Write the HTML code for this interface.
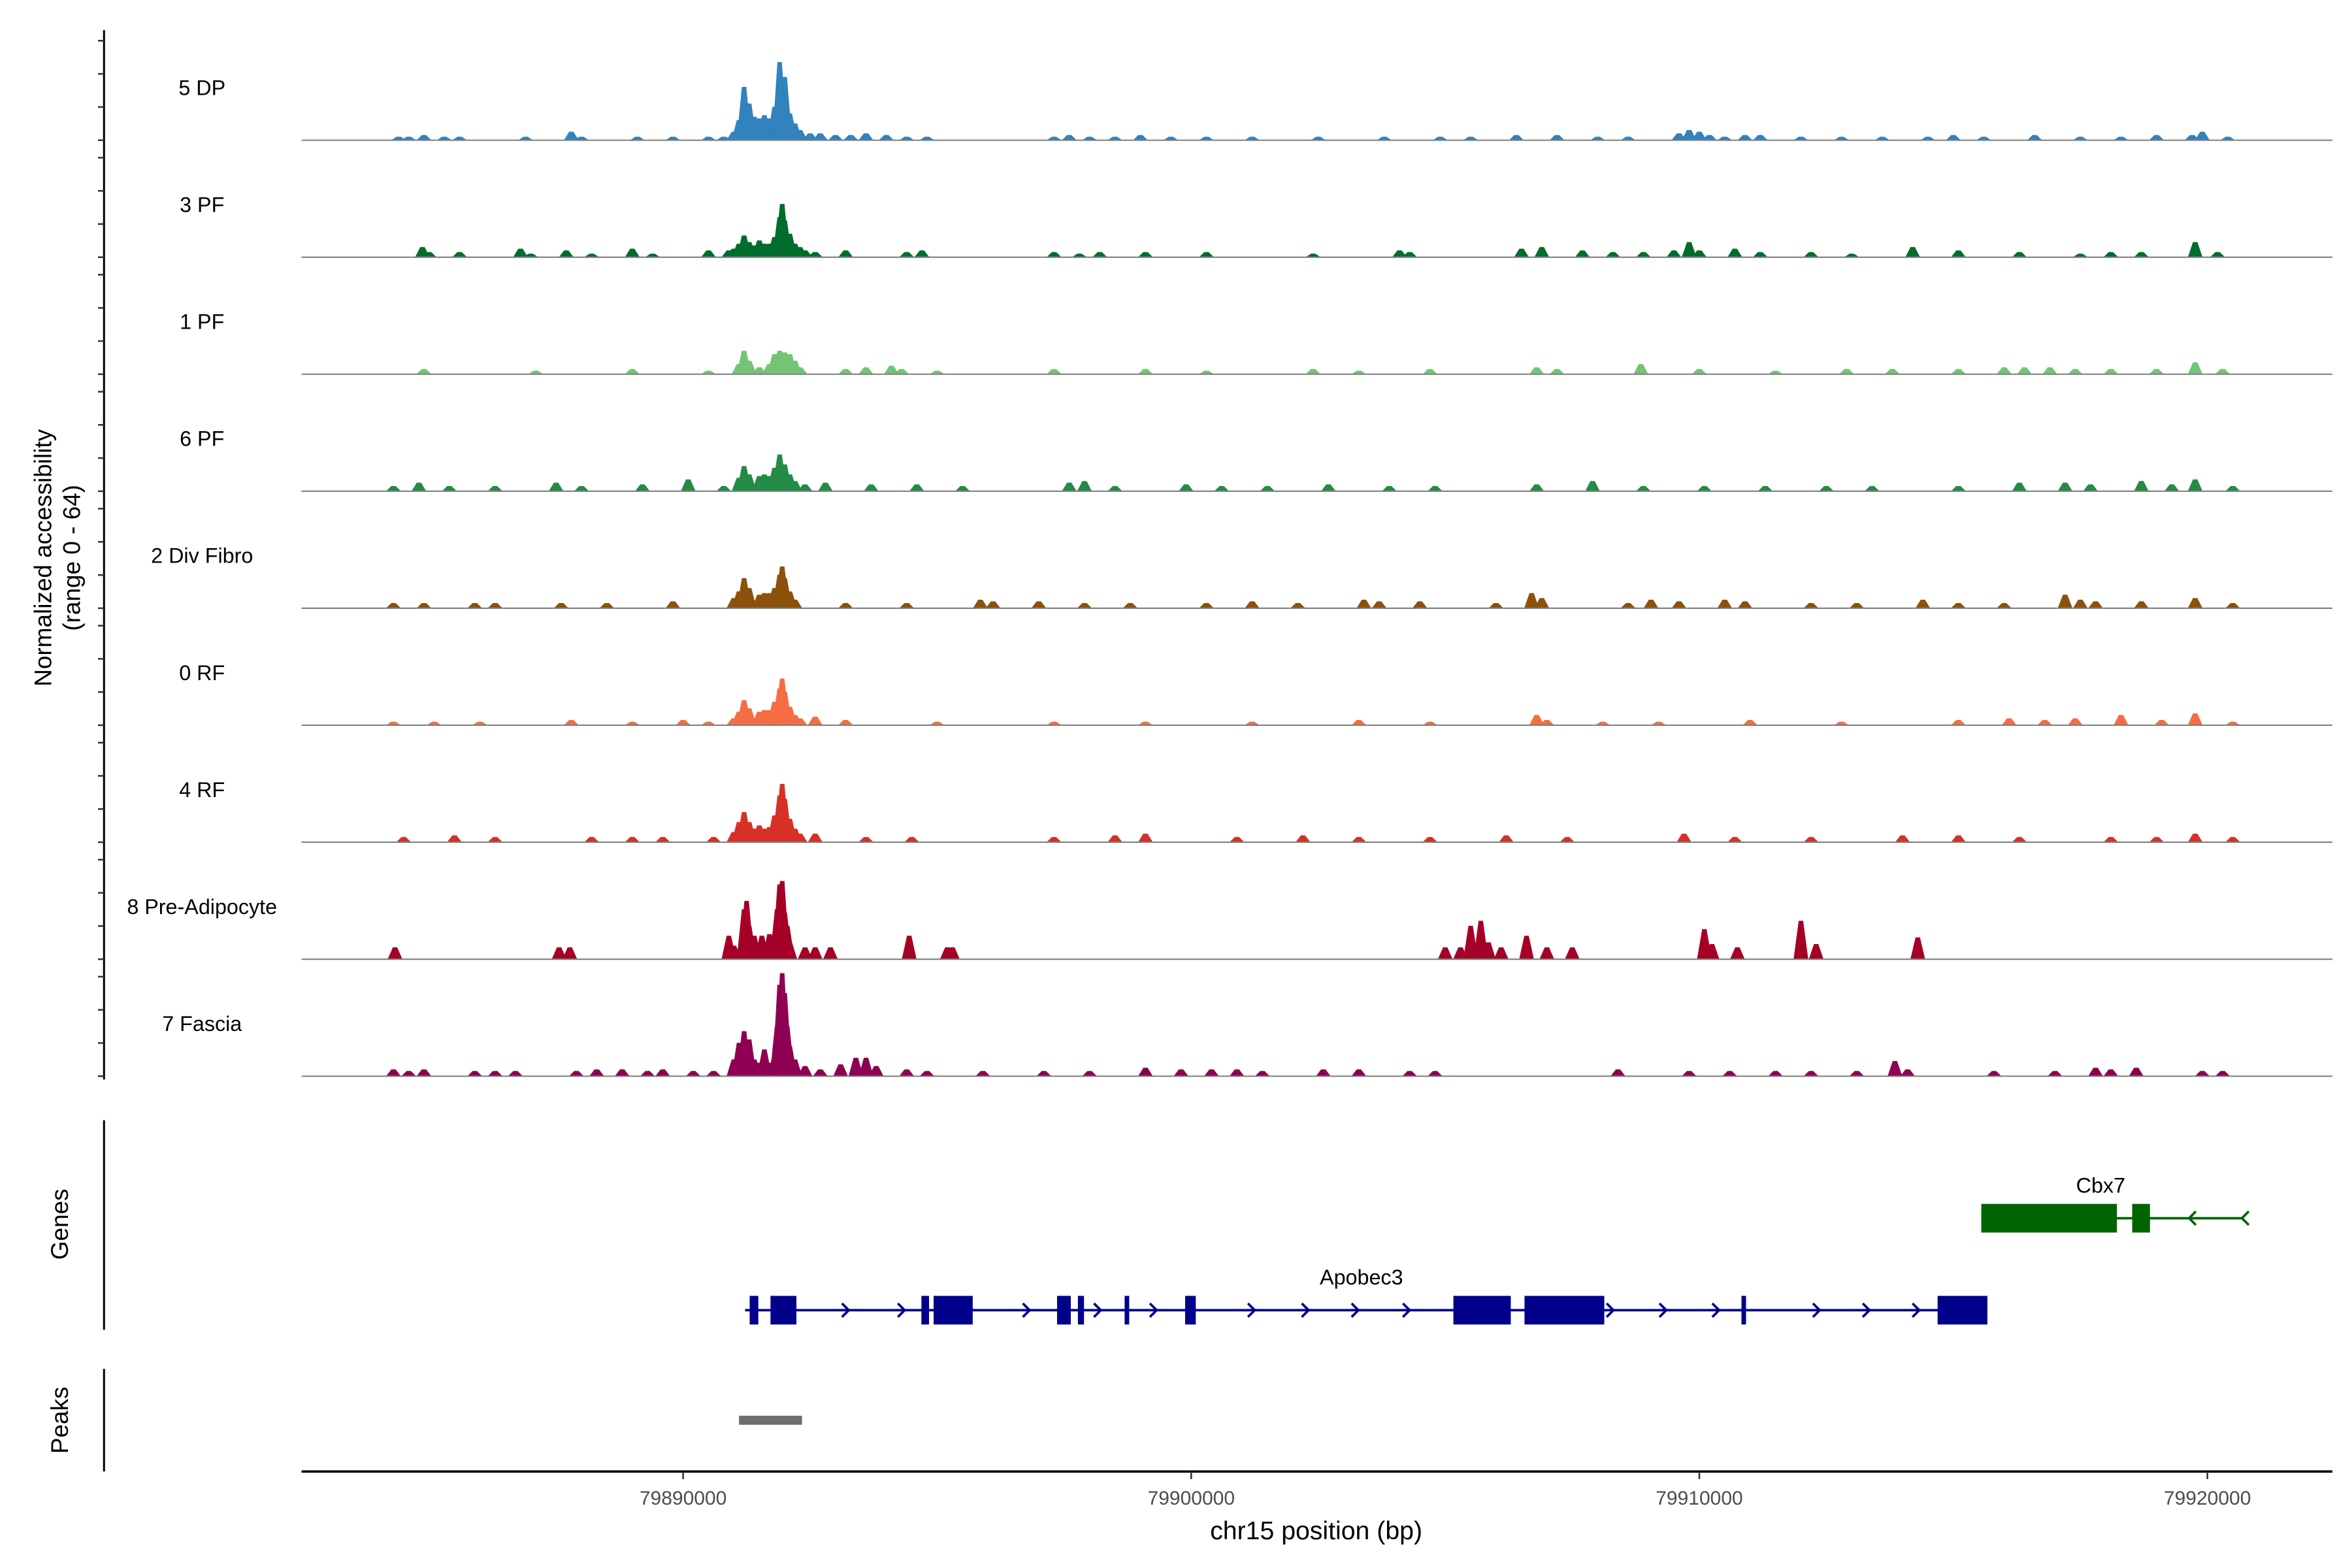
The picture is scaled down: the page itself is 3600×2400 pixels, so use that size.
<!DOCTYPE html>
<html><head><meta charset="utf-8"><style>
html,body{margin:0;padding:0;background:#fff;}
svg{display:block;font-family:"Liberation Sans",Arial,sans-serif;}
</style></head><body>
<svg id="chart" width="3600" height="2400" viewBox="0 0 1560 1040" xmlns="http://www.w3.org/2000/svg">
<rect x="0" y="0" width="1560" height="1040" fill="#fff"/>
<g id="tracks"></g>
<g id="genes"></g>
<g id="axes"></g>
</svg>
<script>
// ---- data (positions in kb relative to chr15:79,880,000; values = normalized accessibility 0-64) ----
const trackNames = ["5 DP","3 PF","1 PF","6 PF","2 Div Fibro","0 RF","4 RF","8 Pre-Adipocyte","7 Fascia"];
const trackColors = ["#3182bd","#006d2c","#74c476","#238b45","#8c510a","#f46d43","#d73027","#a50026","#8e0152"];
const xTicks = [79890000, 79900000, 79910000, 79920000];
const xTickLabels = ["79890000","79900000","79910000","79920000"];
const track5DP = [[4.4,2],[4.6,2],[4.9,3],[5.3,2],[5.6,2],[6.9,2],[7.8,5],[8.0,2],[9.1,2],[9.8,2],[10.5,2],[10.8,2],[11.0,5],[11.1,12],[11.2,32],[11.3,22],[11.4,14],[11.5,13],[11.6,15],[11.7,13],[11.8,20],[11.9,47],[12.0,38],[12.1,16],[12.2,10],[12.3,6],[12.5,4],[12.7,4],[13.0,3],[13.3,3],[13.6,4],[14.0,3],[14.4,2],[14.8,2],[17.3,2],[17.6,3],[18.0,2],[18.5,2],[19.0,3],[19.6,2],[20.3,2],[21.2,2],[22.5,2],[23.8,2],[24.9,2],[25.5,2],[26.4,3],[27.2,3],[28.0,2],[28.6,2],[29.6,4],[29.8,6],[30.0,5],[30.2,3],[30.5,2],[30.9,3],[31.2,3],[32.0,2],[32.8,2],[33.6,2],[34.5,2],[35.0,3],[35.6,2],[36.6,3],[37.5,2],[38.3,2],[39.0,3],[39.7,3],[39.9,5],[40.4,2]];
const track3PF = [[4.87,6],[5.0,3],[5.6,3],[6.8,5],[7.0,2],[7.7,4],[8.2,2],[9.0,5],[9.4,2],[10.5,4],[10.9,4],[11.0,5],[11.1,8],[11.2,13],[11.3,9],[11.4,7],[11.5,10],[11.6,8],[11.7,8],[11.8,12],[11.9,24],[11.95,32],[12.0,22],[12.1,14],[12.2,8],[12.3,6],[12.4,4],[12.6,3],[13.2,4],[14.4,3],[14.7,4],[17.3,3],[17.8,2],[18.2,3],[19.1,3],[20.3,3],[22.4,2],[24.1,4],[24.3,3],[26.5,5],[26.9,6],[27.7,4],[28.3,3],[28.9,3],[29.5,4],[29.8,9],[30.0,4],[30.7,5],[31.2,3],[32.2,3],[33.0,2],[34.2,6],[35.1,4],[36.3,3],[37.5,2],[38.1,3],[38.7,3],[39.76,9],[40.2,3]];
const track1PF = [[4.9,3],[7.1,2],[9.0,3],[10.5,2],[11.1,6],[11.2,14],[11.3,8],[11.5,4],[11.7,6],[11.8,12],[11.9,14],[12.0,13],[12.1,12],[12.2,8],[12.3,4],[13.2,3],[13.6,4],[14.1,5],[14.3,3],[15.0,2],[17.3,3],[19.1,3],[20.3,2],[22.4,3],[23.3,2],[24.7,3],[26.8,4],[27.2,3],[28.85,6],[30.0,3],[31.5,2],[32.9,3],[33.8,3],[35.1,3],[36.0,4],[36.4,4],[36.9,4],[37.4,3],[38.1,3],[39.0,3],[39.76,7],[40.3,3]];
const track6PF = [[4.3,3],[4.8,5],[5.4,3],[6.3,3],[7.5,5],[8.0,3],[9.2,4],[10.1,7],[10.8,3],[11.1,8],[11.2,15],[11.3,10],[11.5,9],[11.6,10],[11.7,9],[11.8,14],[11.9,22],[12.0,16],[12.1,10],[12.2,6],[12.4,4],[12.8,5],[13.7,4],[14.6,4],[15.5,3],[17.6,5],[17.9,6],[18.5,3],[19.9,4],[20.6,3],[21.5,3],[22.7,4],[23.9,3],[24.8,3],[26.8,4],[27.9,6],[28.9,3],[30.1,3],[31.3,3],[32.5,3],[33.4,3],[35.1,3],[36.3,5],[37.2,5],[37.7,4],[38.7,6],[39.3,4],[39.76,7],[40.5,3]];
const track2DivFibro = [[4.3,3],[4.9,3],[5.9,3],[6.3,3],[7.6,3],[8.5,3],[9.8,4],[11.0,6],[11.1,10],[11.2,18],[11.3,12],[11.5,8],[11.6,9],[11.7,9],[11.8,12],[11.9,20],[11.95,25],[12.0,18],[12.1,10],[12.2,5],[13.2,3],[14.4,3],[15.85,5],[16.1,4],[17.0,4],[17.9,3],[18.8,3],[20.3,3],[21.2,4],[22.1,3],[23.4,5],[23.7,4],[24.5,4],[26.0,3],[26.7,9],[26.9,6],[28.6,3],[29.05,5],[29.6,4],[30.5,5],[30.9,4],[32.2,3],[33.1,3],[34.4,5],[35.1,3],[36.0,3],[37.2,8],[37.5,5],[37.8,4],[38.7,4],[39.76,6],[40.5,3]];
const track0RF = [[4.3,2],[5.1,2],[6.0,2],[7.8,3],[9.0,2],[10.0,3],[10.5,2],[11.0,4],[11.1,8],[11.2,15],[11.3,10],[11.5,8],[11.6,9],[11.7,9],[11.8,14],[11.9,22],[11.95,28],[12.0,20],[12.1,11],[12.2,6],[12.3,4],[12.6,5],[13.2,3],[15.0,2],[17.3,2],[19.1,2],[21.2,2],[23.3,3],[24.7,2],[26.8,6],[27.0,3],[28.1,2],[29.2,2],[31.0,3],[32.8,2],[35.1,3],[36.1,4],[36.8,3],[37.4,4],[38.3,6],[39.1,3],[39.76,7],[40.5,2]];
const track4RF = [[4.5,3],[5.5,4],[6.3,3],[8.2,3],[9.0,3],[9.6,3],[10.6,3],[11.0,6],[11.1,12],[11.2,18],[11.3,12],[11.4,8],[11.5,10],[11.6,8],[11.7,9],[11.8,16],[11.9,28],[11.95,35],[12.0,26],[12.1,14],[12.2,8],[12.3,5],[12.6,5],[13.6,3],[14.5,3],[17.3,3],[18.5,4],[19.1,5],[20.9,3],[22.2,4],[23.3,3],[24.7,3],[26.2,4],[27.4,3],[29.7,5],[30.7,3],[32.2,3],[34.0,4],[35.1,4],[36.3,3],[38.1,3],[39.0,3],[39.76,5],[40.5,3]];
const track8PreAdipocyte = [[4.33,7],[7.56,7],[7.77,7],[10.9,14],[11.0,8],[11.14,7],[11.2,30],[11.25,35],[11.3,20],[11.4,14],[11.55,14],[11.7,15],[11.85,30],[11.9,45],[11.95,47],[12.0,28],[12.05,20],[12.1,10],[12.4,7],[12.6,7],[12.9,7],[14.45,14],[15.2,7],[15.3,7],[25.0,7],[25.3,7],[25.5,20],[25.7,23],[25.85,10],[26.1,7],[26.6,14],[27.0,7],[27.5,7],[30.1,18],[30.25,9],[30.75,7],[32.0,23],[32.3,9],[34.3,13]];
const track7Fascia = [[4.3,4],[4.6,3],[4.9,4],[5.9,3],[6.3,3],[6.7,3],[7.9,3],[8.3,4],[8.8,4],[9.3,3],[9.6,4],[10.2,3],[10.6,3],[11.0,10],[11.1,20],[11.2,27],[11.3,22],[11.4,10],[11.5,8],[11.6,16],[11.7,8],[11.8,12],[11.85,30],[11.9,55],[11.95,62],[12.0,50],[12.05,30],[12.1,18],[12.2,10],[12.4,6],[12.7,4],[13.1,7],[13.4,11],[13.6,11],[13.8,6],[14.4,4],[14.8,3],[15.9,3],[17.1,3],[18.0,3],[19.1,5],[19.8,4],[20.4,4],[20.9,4],[21.4,3],[22.6,4],[23.3,4],[24.3,3],[24.8,3],[28.4,4],[29.8,3],[30.6,3],[31.5,3],[32.2,3],[33.1,3],[33.85,9],[34.1,4],[35.8,3],[37.0,3],[37.8,5],[38.1,4],[38.6,5],[39.9,3],[40.3,3]];
const trackData = [track5DP,track3PF,track1PF,track6PF,track2DivFibro,track0RF,track4RF,track8PreAdipocyte,track7Fascia];
const yTickValues = [0,20,40,60];
// genes (kb)
const apobec3Span = [11.22, 35.67];
const apobec3Exons = [[11.31,11.48],[11.72,12.23],[14.69,14.84],[14.93,15.70],[17.36,17.63],[17.77,17.89],[18.69,18.78],[19.88,20.09],[25.16,26.29],[26.56,28.13],[30.83,30.92],[34.69,35.67]];
const apobec3Arrows = [13.26,14.36,16.82,18.22,19.32,21.25,22.31,23.29,24.3,28.31,29.35,30.39,32.37,33.35,34.33];
const cbx7Span = [35.55, 40.71];
const cbx7Exons = [[35.55,38.22],[38.52,38.87]];
const cbx7Arrows = [39.64,40.68];
const peakRegions = [[11.1,12.34]];

// ---- scales ----
const NS="http://www.w3.org/2000/svg";
const X0=200, X1=1547, KB0=2.49, PXKB=33.7;
function xs(kb){return X0+(kb-KB0)*PXKB;}
function xbp(bp){return xs((bp-79880000)/1000);}
const BASE0=93, TRACK_STEP=77.6, PXV=1.1;
function base(i){return BASE0+i*TRACK_STEP;}
function mk(tag,attrs,parent){const e=document.createElementNS(NS,tag);for(const k in attrs)e.setAttribute(k,attrs[k]);parent.appendChild(e);return e;}

const tracks=document.getElementById('tracks');
trackData.forEach((pts,i)=>{
  const g=mk('g',{},tracks);
  
  
  const b=base(i);
  const lbl=mk('text',{x:134,y:b-30,'font-size':'14','text-anchor':'middle',fill:'#000'},g);
  lbl.textContent=trackNames[i];
  
  
  let d='';
  pts.forEach(p=>{
    const kb=p[0], v=p[1], yTop=b-v*PXV;
    d+='M'+xs(kb-0.14).toFixed(2)+','+b+'L'+xs(kb-0.04).toFixed(2)+','+yTop.toFixed(2)+'L'+xs(kb+0.04).toFixed(2)+','+yTop.toFixed(2)+'L'+xs(kb+0.14).toFixed(2)+','+b+'Z';
  });
  const area=mk('path',{d:d,fill:trackColors[i],stroke:trackColors[i],'stroke-width':'0.3'},g);
  
  
  const bl=mk('line',{x1:X0,x2:X1,y1:b,y2:b,stroke:'#7f7f7f','stroke-width':'0.9'},g);
  
  
});

// ---- left y axis ----
const axes=document.getElementById('axes');
const yl=mk('line',{x1:69,x2:69,y1:20,y2:716,stroke:'#000','stroke-width':'1.3'},axes);


trackData.forEach((pts,i)=>{
  yTickValues.forEach(v=>{
    const y=base(i)-v*PXV;
    const t=mk('line',{x1:65,x2:69,y1:y,y2:y,stroke:'#333','stroke-width':'1.1'},axes);
    
    
  });
});
const yt=mk('text',{transform:'translate(34,370) rotate(-90)','font-size':'16','text-anchor':'middle',fill:'#000'},axes);


const ts1=mk('tspan',{x:0,dy:0},yt);ts1.textContent='Normalized accessibility';
const ts2=mk('tspan',{x:0,dy:19},yt);ts2.textContent='(range 0 - 64)';

// ---- genes ----
const genes=document.getElementById('genes');
const gAx=mk('line',{x1:69,x2:69,y1:743,y2:882,stroke:'#000','stroke-width':'1.3'},genes);


const gT=mk('text',{transform:'translate(45,812) rotate(-90)','font-size':'16','text-anchor':'middle'},genes);
gT.textContent='Genes';


function drawGene(name,span,exons,arrows,y,color,dir,labelX,labelY){
  const g=mk('g',{},genes);
  
  
  mk('line',{x1:xs(span[0]),x2:xs(span[1]),y1:y,y2:y,stroke:color,'stroke-width':'1.6'},g);
  arrows.forEach(a=>{
    const x=xs(a), s=dir*4.5;
    mk('polyline',{points:(x-s)+','+(y-4.5)+' '+x+','+y+' '+(x-s)+','+(y+4.5),fill:'none',stroke:color,'stroke-width':'1.6'},g);
  });
  exons.forEach(e=>{
    const r=mk('rect',{x:xs(e[0]),y:y-9.5,width:xs(e[1])-xs(e[0]),height:19,fill:color},g);
    
    
  });
  const t=mk('text',{x:labelX,y:labelY,'font-size':'14','text-anchor':'middle',fill:'#000'},g);
  t.textContent=name;
  
  
}
drawGene('Cbx7',cbx7Span,cbx7Exons,cbx7Arrows,808,'#006400',-1,xs(37.9),791);
drawGene('Apobec3',apobec3Span,apobec3Exons,apobec3Arrows,869,'#00008b',1,xs(23.35),852);

// ---- peaks ----
const pAx=mk('line',{x1:69,x2:69,y1:908,y2:976,stroke:'#000','stroke-width':'1.3'},genes);


const pT=mk('text',{transform:'translate(45,942) rotate(-90)','font-size':'16','text-anchor':'middle'},genes);
pT.textContent='Peaks';


peakRegions.forEach(p=>{
  const r=mk('rect',{x:xs(p[0]),y:939,width:xs(p[1])-xs(p[0]),height:6,fill:'#6e6e6e'},genes);
  
  
});

// ---- x axis ----
const xl=mk('line',{x1:X0,x2:X1,y1:976,y2:976,stroke:'#000','stroke-width':'1.6'},axes);


xTicks.forEach((t,i)=>{
  const x=xbp(t);
  const tk=mk('line',{x1:x,x2:x,y1:976,y2:981,stroke:'#333','stroke-width':'1.1'},axes);
  
  
  const lb=mk('text',{x:x,y:998,'font-size':'13','text-anchor':'middle',fill:'#4d4d4d'},axes);
  lb.textContent=xTickLabels[i];
  
  
});
const xt=mk('text',{x:873,y:1021,'font-size':'17','text-anchor':'middle',fill:'#000'},axes);
xt.textContent='chr15 position (bp)';


</script>
</body></html>
